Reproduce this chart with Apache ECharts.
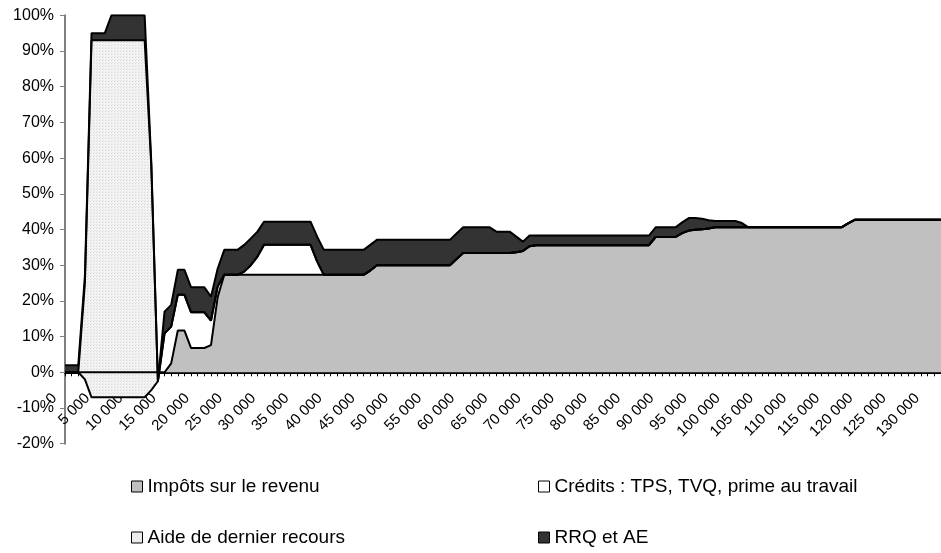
<!DOCTYPE html>
<html>
<head>
<meta charset="utf-8">
<script src="https://cdn.jsdelivr.net/npm/echarts/dist/echarts.min.js"></script>
<style>
html,body{margin:0;padding:0;background:#ffffff;}
#chart{width:941px;height:553px;}
</style>
</head>
<body>
<div id="chart"></div>
<script>
// Revenu (catégories de l'axe horizontal), pas de 1 000 $
const categories = [
  0,1000,2000,3000,4000,5000,6000,7000,8000,9000,
  10000,11000,12000,13000,14000,15000,16000,17000,18000,19000,
  20000,21000,22000,23000,24000,25000,26000,27000,28000,29000,
  30000,31000,32000,33000,34000,35000,36000,37000,38000,39000,
  40000,41000,42000,43000,44000,45000,46000,47000,48000,49000,
  50000,51000,52000,53000,54000,55000,56000,57000,58000,59000,
  60000,61000,62000,63000,64000,65000,66000,67000,68000,69000,
  70000,71000,72000,73000,74000,75000,76000,77000,78000,79000,
  80000,81000,82000,83000,84000,85000,86000,87000,88000,89000,
  90000,91000,92000,93000,94000,95000,96000,97000,98000,99000,
  100000,101000,102000,103000,104000,105000,106000,107000,108000,109000,
  110000,111000,112000,113000,114000,115000,116000,117000,118000,119000,
  120000,121000,122000,123000,124000,125000,126000,127000,128000,129000,
  130000,131000,132000
];

// Impôts sur le revenu (%)
const impots = [
  0,0,0,0,0,0,0,0,0,0,
  0,0,0,0,0,0,2.5,11.7,11.7,6.8,
  6.8,6.8,7.6,21,27.3,27.3,27.3,27.3,27.3,27.3,
  27.3,27.3,27.3,27.3,27.3,27.3,27.3,27.3,27.3,27.3,
  27.3,27.3,27.3,27.3,27.3,27.3,28.5,30,30,30,
  30,30,30,30,30,30,30,30,30,31.7,
  33.4,33.4,33.4,33.4,33.4,33.4,33.4,33.4,33.6,34,
  35.3,35.6,35.6,35.6,35.6,35.6,35.6,35.6,35.6,35.6,
  35.6,35.6,35.6,35.6,35.6,35.6,35.6,35.6,35.6,37.9,
  37.9,37.9,37.9,39,39.7,39.9,40.1,40.3,40.6,40.6,
  40.6,40.6,40.6,40.6,40.6,40.6,40.6,40.6,40.6,40.6,
  40.6,40.6,40.6,40.6,40.6,40.6,40.6,40.6,41.7,42.7,
  42.7,42.7,42.7,42.7,42.7,42.7,42.7,42.7,42.7,42.7,
  42.7,42.7,42.7
];

// Crédits : TPS, TVQ, prime au travail (%)
const credits = [
  0,0,0,-2,-7,-7,-7,-7,-7,-7,
  -7,-7,-7,-5,-2.5,10.9,10.3,10,10,10,
  10,10,6.9,3,0,0,0,0.9,2.7,5.1,
  8.4,8.4,8.4,8.4,8.4,8.4,8.4,8.4,3.7,0,
  0,0,0,0,0,0,0,0,0,0,
  0,0,0,0,0,0,0,0,0,0,
  0,0,0,0,0,0,0,0,0,0,
  0,0,0,0,0,0,0,0,0,0,
  0,0,0,0,0,0,0,0,0,0,
  0,0,0,0,0,0,0,0,0,0,
  0,0,0,0,0,0,0,0,0,0,
  0,0,0,0,0,0,0,0,0,0,
  0,0,0,0,0,0,0,0,0,0,
  0,0,0
];

// Aide de dernier recours (%)
const aide = [
  0,0,0,27,100,100,100,100,100,100,
  100,100,100,63,0,0,0,0,0,0,
  0,0,0,0,0,0,0,0,0,0,
  0,0,0,0,0,0,0,0,0,0,
  0,0,0,0,0,0,0,0,0,0,
  0,0,0,0,0,0,0,0,0,0,
  0,0,0,0,0,0,0,0,0,0,
  0,0,0,0,0,0,0,0,0,0,
  0,0,0,0,0,0,0,0,0,0,
  0,0,0,0,0,0,0,0,0,0,
  0,0,0,0,0,0,0,0,0,0,
  0,0,0,0,0,0,0,0,0,0,
  0,0,0,0,0,0,0,0,0,0,
  0,0,0
];

// RRQ et AE (%)
const rrq = [
  2,2,2,2,2,2,2,7,7,7,
  7,7,7,1,0,6.1,6.1,7,7,7,
  7,7,6.7,5,7,7,7,7.5,7.5,7,
  6.5,6.5,6.5,6.5,6.5,6.5,6.5,6.5,7,7,
  7,7,7,7,7,7,7.2,7.1,7.1,7.1,
  7.1,7.1,7.1,7.1,7.1,7.1,7.1,7.1,7.1,7.2,
  7.2,7.2,7.2,7.2,7.2,6,6,6,4.4,2.6,
  3,2.7,2.7,2.7,2.7,2.7,2.7,2.7,2.7,2.7,
  2.7,2.7,2.7,2.7,2.7,2.7,2.7,2.7,2.7,2.7,
  2.7,2.7,2.7,3,3.5,3.3,2.9,2.3,1.8,1.8,
  1.8,1.8,1.2,0,0,0,0,0,0,0,
  0,0,0,0,0,0,0,0,0,0,
  0,0,0,0,0,0,0,0,0,0,
  0,0,0
];

const seriesNames = ['Impôts sur le revenu', 'Crédits : TPS, TVQ, prime au travail', 'Aide de dernier recours', 'RRQ et AE'];
const yMin = -20, yMax = 100, yStep = 10;

// layout
const GRID_TOP = 15.3, GRID_BOTTOM_Y = 443.7, H = 553;
const zeroY = GRID_TOP + (GRID_BOTTOM_Y - GRID_TOP) * (yMax - 0) / (yMax - yMin);

// light dotted pattern for "Aide de dernier recours"
const pc = document.createElement('canvas');
pc.width = 3; pc.height = 3;
const g = pc.getContext('2d');
g.fillStyle = '#f3f3f3'; g.fillRect(0, 0, 3, 3);
g.fillStyle = '#d6d6d6'; g.fillRect(0, 0, 1, 1);
g.fillStyle = '#e4e4e4'; g.fillRect(1, 2, 1, 1);

const FONT = "'Liberation Sans', Arial, Helvetica, sans-serif";
const fmtNum = v => String(v).replace(/\B(?=(\d{3})+(?!\d))/g, ' ');

const chart = echarts.init(document.getElementById('chart'), null, {renderer: 'canvas'});

function mkSeries(name, data, fill, itemColor) {
  return {
    name: name,
    type: 'line',
    data: data,
    stack: 'total',
    stackStrategy: 'all',
    symbol: 'none',
    smooth: false,
    animation: false,
    itemStyle: {color: itemColor || fill},
    lineStyle: {color: '#000000', width: 2},
    areaStyle: {color: fill, opacity: 1},
    emphasis: {disabled: true}
  };
}

const legendCommon = {
  icon: 'rect',
  itemWidth: 11,
  itemHeight: 11,
  padding: 0,
  itemGap: 0,
  itemStyle: {borderColor: '#000000', borderWidth: 1},
  textStyle: {fontSize: 19, color: '#000000', fontFamily: FONT}
};

chart.setOption({
  backgroundColor: '#ffffff',
  animation: false,
  grid: {left: 65, right: 0, top: GRID_TOP, bottom: H - GRID_BOTTOM_Y, containLabel: false, outerBoundsMode: 'none'},
  xAxis: {
    type: 'category',
    data: categories,
    boundaryGap: false,
    offset: -(GRID_BOTTOM_Y - zeroY),
    axisLine: {show: true, onZero: false, lineStyle: {color: '#000000', width: 2}},
    axisTick: {show: true, interval: 0, length: 4, inside: false, lineStyle: {color: '#000000', width: 1}},
    axisLabel: {
      interval: 4,
      rotate: 45,
      margin: 13,
      padding: [0, 15, 0, 0],
      fontSize: 15,
      color: '#000000',
      fontFamily: FONT,
      formatter: v => fmtNum(v)
    },
    splitLine: {show: false}
  },
  yAxis: {
    type: 'value',
    min: yMin,
    max: yMax,
    interval: yStep,
    axisLine: {show: true, lineStyle: {color: '#808080', width: 2}},
    axisTick: {show: true, length: 5, inside: false, lineStyle: {color: '#808080', width: 1}},
    axisLabel: {fontSize: 16, color: '#000000', fontFamily: FONT, margin: 11, formatter: '{value}%'},
    splitLine: {show: false}
  },
  legend: [
    Object.assign({data: [seriesNames[0]], left: 131, top: 477}, legendCommon),
    Object.assign({data: [seriesNames[1]], left: 538, top: 477}, legendCommon),
    Object.assign({data: [seriesNames[2]], left: 131, top: 528}, legendCommon),
    Object.assign({data: [seriesNames[3]], left: 538, top: 528}, legendCommon)
  ],
  series: [
    mkSeries(seriesNames[0], impots, '#c0c0c0'),
    mkSeries(seriesNames[1], credits, '#ffffff'),
    mkSeries(seriesNames[2], aide, {image: pc, repeat: 'repeat'}, '#ececec'),
    mkSeries(seriesNames[3], rrq, '#333333')
  ]
});
</script>
</body>
</html>
